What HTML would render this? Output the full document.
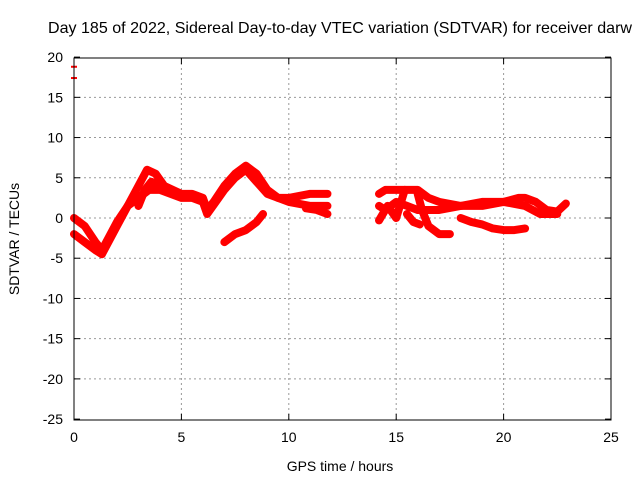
<!DOCTYPE html>
<html><head><meta charset="utf-8"><style>
body{margin:0;background:#fff;}
svg{display:block;font-family:"Liberation Sans",sans-serif;}
</style></head><body>
<svg id="chart" width="640" height="480">
<text x="340" y="33" font-size="16" text-anchor="middle" textLength="584" lengthAdjust="spacingAndGlyphs">Day 185 of 2022, Sidereal Day-to-day VTEC variation (SDTVAR) for receiver darw</text>
<text x="340" y="471" font-size="14" text-anchor="middle">GPS time / hours</text>
<text transform="translate(19,239) rotate(-90)" font-size="14" text-anchor="middle">SDTVAR / TECUs</text>
<g id="grid"></g><g id="ticks"></g><g id="marks"></g>
<rect x="74" y="58" width="537" height="362" fill="none" stroke="#000" stroke-width="1"/>
</svg>
<script>
const xTicks=[0,5,10,15,20,25];
const yTicks=[20,15,10,5,0,-5,-10,-15,-20,-25];
const trackA_h=[0,0.5,1,1.3,1.6,2,2.5,3,3.4,3.8,4.2,5,5.5,6,6.2,6.5,7,7.5,8,8.5,9,9.5,10,11,11.8];
const trackA_v=[0,-1,-3,-4,-2.5,-0.5,1.5,4,6,5.5,4,3,3,2.5,1,2,4,5.5,6.5,5.5,3.5,2.5,2.5,3,3];
const trackB_h=[0,0.5,1,1.3,2,2.5,3,3.5,4,4.5,5,5.5,6,6.2,6.6,7,7.5,8,8.5,9,9.5,10,11,11.8];
const trackB_v=[-2,-3,-4,-4.5,-1,1.5,2.5,3.5,3.5,3,2.5,2.5,2,0.5,2,3.5,5,6,4.5,3,2.5,2,1.5,1.5];
const trackC_h=[7,7.5,8,8.5,8.8];
const trackC_v=[-3,-2,-1.5,-0.5,0.5];
const trackD_h=[3,3.3,3.6,4];
const trackD_v=[1.5,3.5,4.5,4];
const trackK_h=[10.8,11.3,11.8];
const trackK_v=[1.2,1,0.5];
const trackE_h=[14.2,14.5,15,15.5,16,16.5,17,18,19,20,20.7,21,21.5,22,22.5,22.9];
const trackE_v=[3,3.5,3.5,3.5,3.5,2.5,2,1.5,2,2,2.5,2.5,2,1,0.8,1.8];
const trackF_h=[14.2,14.5,15,15.5,16,17,18,19,20,21,21.7,22.5];
const trackF_v=[1.5,1,2,1.5,1,1,1.5,1.5,2,1.5,0.5,0.5];
const trackG_h=[14.2,14.6,15,15.4];
const trackG_v=[-0.3,1.5,0,3.5];
const trackH_h=[16,16.2,16.5,17,17.5];
const trackH_v=[3,1,-1,-2,-2];
const trackI_h=[15.5,15.8,16.1];
const trackI_v=[0.5,-0.5,-0.8];
const trackJ_h=[18,18.5,19,19.5,20,20.5,21];
const trackJ_v=[0,-0.5,-0.8,-1.3,-1.5,-1.5,-1.3];
const tracks=[[trackA_h,trackA_v],[trackB_h,trackB_v],[trackC_h,trackC_v],[trackD_h,trackD_v],[trackK_h,trackK_v],[trackE_h,trackE_v],[trackF_h,trackF_v],[trackG_h,trackG_v],[trackH_h,trackH_v],[trackI_h,trackI_v],[trackJ_h,trackJ_v]];
const outlierH=[0,0];
const outlierV=[18.8,17.4];
const NS="http://www.w3.org/2000/svg";
const X=h=>74+h*(537/25);
const Y=v=>218-v*(362/45);
function mk(t,a,p){const e=document.createElementNS(NS,t);for(const k in a)e.setAttribute(k,a[k]);p.appendChild(e);return e;}
const grid=document.getElementById('grid'),ticks=document.getElementById('ticks'),marks=document.getElementById('marks');
xTicks.forEach(t=>{
 if(t>0&&t<25){const l=mk('line',{x1:X(t),x2:X(t),y1:58,y2:420,stroke:'#999','stroke-dasharray':'2,3'},grid);
 
 }
 mk('line',{x1:X(t),x2:X(t),y1:420,y2:414,stroke:'#000'},ticks);
 mk('line',{x1:X(t),x2:X(t),y1:58,y2:64,stroke:'#000'},ticks);
 const tx=mk('text',{x:X(t),y:442,'font-size':14,'text-anchor':'middle'},ticks);tx.textContent=t;
 
 
});
yTicks.forEach(t=>{
 if(t<20&&t>-25){const l=mk('line',{x1:74,x2:611,y1:Y(t),y2:Y(t),stroke:'#999','stroke-dasharray':'2,3'},grid);
 
 }
 mk('line',{x1:74,x2:80,y1:Y(t),y2:Y(t),stroke:'#000'},ticks);
 mk('line',{x1:611,x2:605,y1:Y(t),y2:Y(t),stroke:'#000'},ticks);
 const tx=mk('text',{x:63,y:Y(t)+5,'font-size':14,'text-anchor':'end'},ticks);tx.textContent=t;
 
 
});
tracks.forEach(([hs,vs])=>{
 const p=mk('polyline',{points:hs.map((h,i)=>X(h)+','+Y(vs[i])).join(' '),fill:'none',stroke:'#f00','stroke-width':8,'stroke-linejoin':'round','stroke-linecap':'round'},marks);
 
 
});
outlierH.forEach((h,i)=>{
 const m=mk('line',{x1:X(h)-3,x2:X(h)+3,y1:Y(outlierV[i]),y2:Y(outlierV[i]),stroke:'#f00','stroke-width':2},marks);
 
 
});
</script>
</body></html>
